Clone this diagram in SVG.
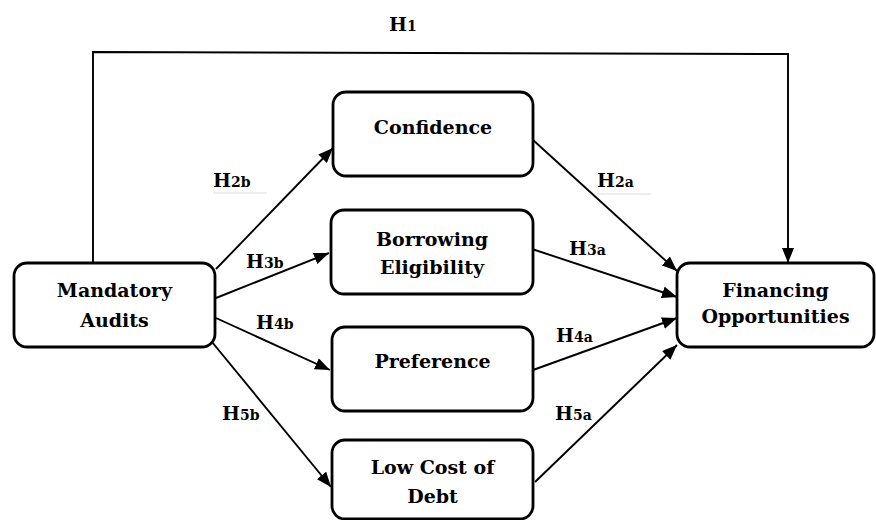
<svg xmlns="http://www.w3.org/2000/svg" width="876" height="520" viewBox="0 0 876 520">
<defs>
<marker id="arr" markerUnits="userSpaceOnUse" markerWidth="16" markerHeight="12" refX="15" refY="6" orient="auto">
<path d="M0,0 L15,6 L0,12 z" fill="#000"/>
</marker>
<style>
.box{fill:#fff;stroke:#000;stroke-width:2.8}
.t{font-family:"DejaVu Serif","Liberation Serif",serif;font-weight:bold;font-size:19px;text-anchor:middle;fill:#000}
.e{fill:none;stroke:#000;stroke-width:1.8}
.ea{fill:none;stroke:#000;stroke-width:1.9;marker-end:url(#arr)}
.h{font-family:"DejaVu Serif","Liberation Serif",serif;font-weight:bold;font-size:19px;fill:#000}
.s{font-size:14px}
.faint{stroke:#ddd;stroke-width:1}
</style>
</defs>
<rect width="876" height="520" fill="#fff"/>
<g id="connectors">
<polyline class="ea" points="93,262 93,52 788,54 788,263"/>
<line class="ea" x1="216" y1="269" x2="333" y2="148"/>
<line class="ea" x1="216" y1="298" x2="329" y2="253"/>
<line class="ea" x1="216" y1="318" x2="330" y2="370"/>
<line class="ea" x1="212" y1="342" x2="331" y2="487"/>
<line class="ea" x1="533" y1="140" x2="677" y2="271"/>
<line class="ea" x1="532" y1="249" x2="677" y2="297"/>
<line class="ea" x1="533" y1="370" x2="677" y2="318"/>
<line class="ea" x1="535" y1="482" x2="677" y2="345"/>
</g>
<g id="labels">
<text class="h" x="389" y="31">H<tspan class="s">1</tspan></text>
<text class="h" x="213" y="187">H<tspan class="s">2b</tspan></text>
<line class="faint" x1="213" y1="193" x2="267" y2="193"/>
<text class="h" x="246" y="268">H<tspan class="s">3b</tspan></text>
<text class="h" x="256" y="329">H<tspan class="s">4b</tspan></text>
<text class="h" x="222" y="420">H<tspan class="s">5b</tspan></text>
<text class="h" x="597" y="187">H<tspan class="s">2a</tspan></text>
<line class="faint" x1="597" y1="194" x2="651" y2="194"/>
<text class="h" x="569" y="255">H<tspan class="s">3a</tspan></text>
<text class="h" x="556" y="342">H<tspan class="s">4a</tspan></text>
<text class="h" x="555" y="420">H<tspan class="s">5a</tspan></text>
</g>
<g id="mandatory-audits">
<rect class="box" x="14" y="263" width="201" height="84" rx="13"/>
<text class="t" x="114.5" y="297">Mandatory</text>
<text class="t" x="114.5" y="327">Audits</text>
</g>
<g id="confidence">
<rect class="box" x="333" y="92" width="200" height="84" rx="13"/>
<text class="t" x="433" y="134">Confidence</text>
</g>
<g id="borrowing-eligibility">
<rect class="box" x="331" y="210" width="202" height="84" rx="13"/>
<text class="t" x="432" y="246">Borrowing</text>
<text class="t" x="432" y="274">Eligibility</text>
</g>
<g id="preference">
<rect class="box" x="332" y="327" width="201" height="84" rx="13"/>
<text class="t" x="432.5" y="368">Preference</text>
</g>
<g id="low-cost-of-debt">
<rect class="box" x="332" y="440" width="201" height="79" rx="13"/>
<text class="t" x="432.5" y="474">Low Cost of</text>
<text class="t" x="432.5" y="503">Debt</text>
</g>
<g id="financing-opportunities">
<rect class="box" x="677" y="263" width="197" height="84" rx="13"/>
<text class="t" x="775.5" y="297">Financing</text>
<text class="t" x="775.5" y="323">Opportunities</text>
</g>
</svg>
